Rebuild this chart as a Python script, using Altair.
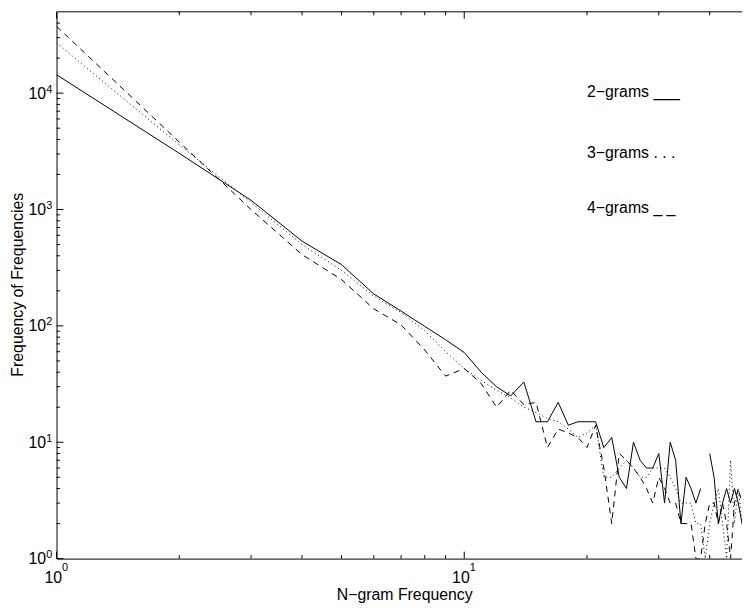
import altair as alt
import pandas as pd

FONT = "Liberation Sans, Arial, Helvetica, sans-serif"

# ---- data ----
x_vals = list(range(1, 49))
bigrams = [14400, 3040, 1200, 535, 336, 188, 134, 99, 76, 59,
           40, 30, 25, 33, 15, 15, 22, 14, 15, 15,
           15, 9, 11, 5, 4, 10, 7, 6, 6, 8,
           3, 10, 7, 2, 5, 4, 3, 4, None, 8,
           5, 2, 3, 4, 3, 4, 3, 2]
trigrams = [27000, 3600, 1150, 500, 300, 180, 130, 91, 60, 43,
            34, 28, 24, 20, 18, 16, 15, 13, 11, 12,
            14, 5, 5, 6, 7, 6, 5, 5, 6, 6,
            6, 5, 4, 3, 3, 3, 2, 2, 1, 2,
            3, 4, 2, 1, 7, 2, 4, 2]
fourgrams = [37500, 3800, 1000, 410, 250, 140, 102, 62, 37, 43,
             32, 20, 28, 21, 22, 9, 13, 12, 11, 9,
             14, 6, 2, 8, 7, 6, 5, 4, 3, 5,
             4, 3, 3, 2, 2, 2, 1, 1, 2, 3,
             3, 2, 3, 2, 1, 3, 4, 3]

legend_x = [20, 20, 20]
legend_y = [10000, 3000, 1000]
legend_labels = ["2\u2212grams ___", "3\u2212grams . . .", "4\u2212grams _ _"]

x_major = [1, 10]
x_minor = [2, 3, 4, 5, 6, 7, 8, 9, 20, 30, 40]
y_major = [1, 10, 100, 1000, 10000]
y_minor = [k * 10 ** d for d in range(4) for k in range(2, 10)] + [20000, 30000, 40000]
x_tick_exp = ["0", "1"]
y_tick_exp = ["0", "1", "2", "3", "4"]

W, H = 692, 552
MAJ, MIN = 7, 3.5


def long_df(vals, name):
    rows, seg = [], 0
    for x, v in zip(x_vals, vals):
        if v is None:
            seg += 1
            continue
        rows.append({"x": x, "y": v, "series": name, "seg": seg})
    return pd.DataFrame(rows)


xscale = alt.Scale(type="log", domain=[1, 48], nice=False)
yscale = alt.Scale(type="log", domain=[1, 50000], nice=False)

xaxis = alt.Axis(title="N\u2212gram Frequency", labels=False, ticks=False, tickSize=0,
                 grid=False, domain=True, domainColor="black", domainWidth=1,
                 titleFont=FONT, titleFontSize=16, titleFontWeight="normal",
                 titleColor="black", titleX=351, titleY=41,
                 titleBaseline="alphabetic", titleAlign="center")
yaxis = alt.Axis(title="Frequency of Frequencies", labels=False, ticks=False, tickSize=0,
                 grid=False, domain=True, domainColor="black", domainWidth=1,
                 titleFont=FONT, titleFontSize=16, titleFontWeight="normal",
                 titleColor="black", titleX=-34, titleY=275, titleAngle=270,
                 titleBaseline="alphabetic", titleAlign="center")


def X(f):
    return alt.X(f"{f}:Q", scale=xscale, axis=xaxis)


def Y(f):
    return alt.Y(f"{f}:Q", scale=yscale, axis=yaxis)


lines = []
for vals, name, dash in [(bigrams, "2-grams", None),
                         (trigrams, "3-grams", [1, 3]),
                         (fourgrams, "4-grams", [6, 5])]:
    kw = dict(color="black", strokeWidth=1, clip=True)
    if dash is not None:
        kw["strokeDash"] = dash
    lines.append(
        alt.Chart(long_df(vals, name)).mark_line(**kw).encode(
            x=X("x"), y=Y("y"), detail="seg:N", order="x:Q")
    )


def xticks(vals, length, top):
    df = pd.DataFrame({"t": vals})
    if top:
        enc = dict(y=alt.value(0), y2=alt.value(length))
    else:
        enc = dict(y=alt.value(H), y2=alt.value(H - length))
    return alt.Chart(df).mark_rule(color="black", strokeWidth=1).encode(x=X("t"), **enc)


def yticks(vals, length):
    df = pd.DataFrame({"t": vals})
    return alt.Chart(df).mark_rule(color="black", strokeWidth=1).encode(
        y=Y("t"), x=alt.value(0), x2=alt.value(length))


ticks = [xticks(x_major, MAJ, False), xticks(x_minor, MIN, False),
         xticks(x_major, MAJ, True), xticks(x_minor, MIN, True),
         yticks(y_major, MAJ), yticks(y_minor, MIN)]

top_border = alt.Chart(pd.DataFrame({"a": [0]})).mark_rule(color="black", strokeWidth=1).encode(
    x=alt.value(0), x2=alt.value(W), y=alt.value(0))

xl = pd.DataFrame({"v": x_major, "base": ["10"] * len(x_major), "exp": x_tick_exp})
yl = pd.DataFrame({"v": y_major, "base": ["10"] * len(y_major), "exp": y_tick_exp})

txt = dict(font=FONT, color="black")
xlab_base = alt.Chart(xl).mark_text(align="right", baseline="alphabetic", dx=5.5,
                                    fontSize=16, **txt).encode(
    x=X("v"), y=alt.value(H + 25), text="base:N")
xlab_exp = alt.Chart(xl).mark_text(align="left", baseline="alphabetic", dx=5.5,
                                   fontSize=11, **txt).encode(
    x=X("v"), y=alt.value(H + 13), text="exp:N")
ylab_base = alt.Chart(yl).mark_text(align="right", baseline="alphabetic", dy=5.5,
                                    fontSize=16, **txt).encode(
    y=Y("v"), x=alt.value(-10.5), text="base:N")
ylab_exp = alt.Chart(yl).mark_text(align="left", baseline="alphabetic", dy=-0.5,
                                   fontSize=11, **txt).encode(
    y=Y("v"), x=alt.value(-10.5), text="exp:N")

leg = pd.DataFrame({"lx": legend_x, "ly": legend_y, "label": legend_labels})
legend = alt.Chart(leg).mark_text(align="left", baseline="alphabetic", dy=4, fontSize=16, **txt).encode(
    x=X("lx"), y=Y("ly"), text="label:N")

chart = alt.layer(*lines, *ticks, top_border, xlab_base, xlab_exp, ylab_base, ylab_exp, legend).properties(
    width=W, height=H,
    autosize=alt.AutoSizeParams(type="none"),
    padding={"left": 49, "top": 1, "right": 0, "bottom": 45},
    background="white",
).configure_view(stroke=None)

chart.save("out.html", embed_options={"renderer": "svg", "actions": False})
